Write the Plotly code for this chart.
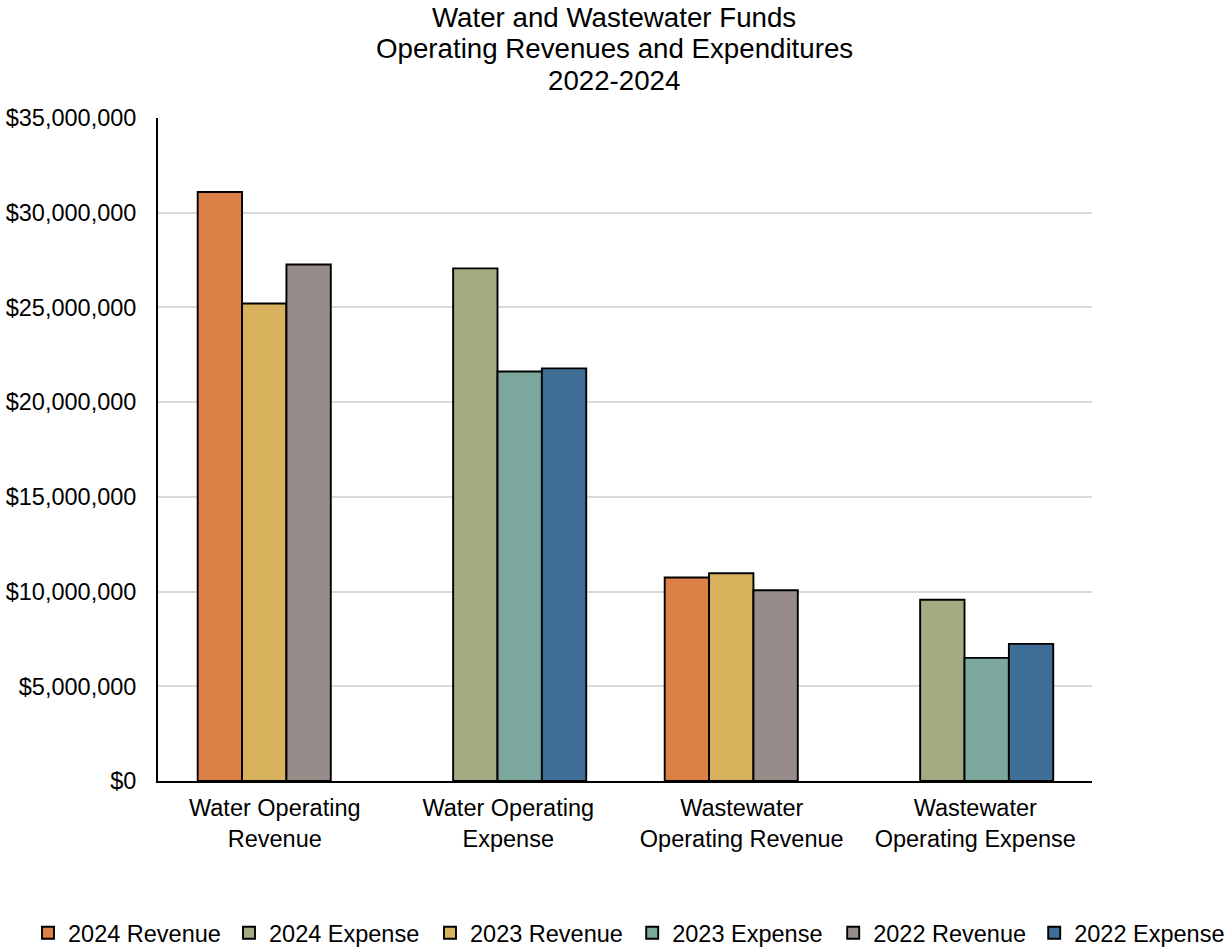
import plotly.graph_objects as go

categories = ["Water Operating<br>Revenue", "Water Operating<br>Expense",
              "Wastewater<br>Operating Revenue", "Wastewater<br>Operating Expense"]

series_names = ["2024 Revenue", "2024 Expense", "2023 Revenue",
                "2023 Expense", "2022 Revenue", "2022 Expense"]

rev_2024 = [31090000, None, 10740000, None]
exp_2024 = [None, 27060000, None, 9570000]
rev_2023 = [25210000, None, 10970000, None]
exp_2023 = [None, 21620000, None, 6500000]
rev_2022 = [27270000, None, 10070000, None]
exp_2022 = [None, 21780000, None, 7240000]

series_values = [rev_2024, exp_2024, rev_2023, exp_2023, rev_2022, exp_2022]
colors = ["#DD8047", "#A5AB81", "#D8B25C", "#7BA79D", "#968C8A", "#3E6E96"]
offsets = [-0.330, -0.236, -0.140, -0.046, 0.050, 0.144]
bar_width = 0.19
# first three entries go in the left legend block, last three in the right block
legend_ids = ["legend", "legend", "legend", "legend2", "legend2", "legend2"]

tick_vals = [0, 5000000, 10000000, 15000000, 20000000, 25000000, 30000000, 35000000]
title_lines = ["Water and Wastewater Funds",
               "Operating Revenues and Expenditures",
               "2022-2024"]

FONT = "Liberation Sans, Arial, sans-serif"

fig = go.Figure()
for name, vals, col, off, lg in zip(series_names, series_values, colors, offsets, legend_ids):
    fig.add_trace(go.Bar(
        name=name, x=categories, y=vals,
        offset=off, width=bar_width, legend=lg,
        marker=dict(color=col, line=dict(color="#000000", width=1.9)),
    ))

# Title lines
title_y = [1.1516, 1.1048, 1.0573]
for txt, yy in zip(title_lines, title_y):
    fig.add_annotation(text=txt, xref="paper", yref="paper",
                       x=(614 - 158) / 934, y=yy, xanchor="center", yanchor="middle",
                       showarrow=False, font=dict(family=FONT, size=27.7, color="#000000"))

legend_common = dict(
    orientation="h", xref="container", yref="container",
    xanchor="left", y=(949 - 933) / 949, yanchor="middle",
    font=dict(family=FONT, size=23.5, color="#000000"),
    entrywidth=156, entrywidthmode="pixels",
    traceorder="normal", bgcolor="rgba(0,0,0,0)",
)

fig.update_layout(
    width=1228, height=949,
    margin=dict(l=158, r=136, t=118, b=168),
    paper_bgcolor="white", plot_bgcolor="white",
    barmode="overlay",
    font=dict(family=FONT, color="#000000"),
    showlegend=True,
    legend=dict(x=28 / 1228, **legend_common),
    legend2=dict(x=(28 + 3 * 201.4) / 1228, **legend_common),
    xaxis=dict(
        type="category", categoryorder="array", categoryarray=categories,
        showline=True, linecolor="#000000", linewidth=2,
        ticks="", showgrid=False, automargin=False,
        tickfont=dict(family=FONT, size=23.5, color="#000000"),
        ticklabelstandoff=5,
        range=[-0.5, 3.5],
    ),
    yaxis=dict(
        range=[0, 35000000], tickmode="array", tickvals=tick_vals,
        tickformat="$,.0f", automargin=False,
        showline=True, linecolor="#000000", linewidth=1.8,
        showgrid=True, gridcolor="#D9D9D9", gridwidth=2,
        zeroline=False, ticks="",
        tickfont=dict(family=FONT, size=23.5, color="#000000"),
        ticklabelstandoff=15,
    ),
)

fig.write_html("out.html")
